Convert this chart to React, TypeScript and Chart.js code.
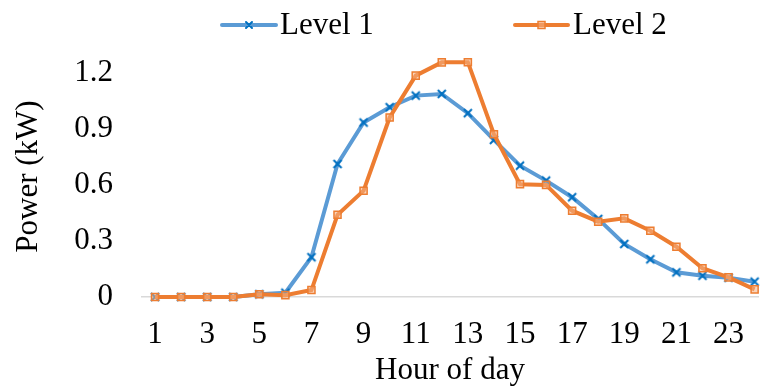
import React, { useEffect, useRef } from "react";
import { Chart, registerables } from "chart.js";

Chart.register(...registerables);

const hours = [1, 2, 3, 4, 5, 6, 7, 8, 9, 10, 11, 12, 13, 14, 15, 16, 17, 18, 19, 20, 21, 22, 23, 24];
const level1 = [0, 0, 0, 0, 0.015, 0.023, 0.213, 0.712, 0.934, 1.016, 1.078, 1.087, 0.984, 0.841, 0.703, 0.623, 0.534, 0.418, 0.284, 0.202, 0.132, 0.114, 0.103, 0.082];
const level2 = [0, 0, 0, 0, 0.015, 0.01, 0.037, 0.44, 0.569, 0.961, 1.185, 1.256, 1.257, 0.871, 0.604, 0.6, 0.462, 0.403, 0.421, 0.355, 0.269, 0.154, 0.105, 0.041];
const xTicks = [1, 3, 5, 7, 9, 11, 13, 15, 17, 19, 21, 23];
const yTicks = [0, 0.3, 0.6, 0.9, 1.2];
const yTickLabels = ["0", "0.3", "0.6", "0.9", "1.2"];
const seriesNames = ["Level 1", "Level 2"];

const FONT = "'Liberation Serif', 'Times New Roman', serif";
const BLUE_LINE = "#5B9BD5";
const BLUE_MARK = "#0070C0";
const ORANGE = "#ED7D31";
const ORANGE_FILL = "rgba(244,177,131,0.55)";

function drawCross(ctx: CanvasRenderingContext2D, x: number, y: number, r: number, color: string) {
  ctx.save();
  ctx.strokeStyle = color;
  ctx.lineWidth = 2;
  ctx.beginPath();
  ctx.moveTo(x - r, y - r);
  ctx.lineTo(x + r, y + r);
  ctx.moveTo(x + r, y - r);
  ctx.lineTo(x - r, y + r);
  ctx.stroke();
  ctx.restore();
}

const legendPlugin = {
  id: "customLegend",
  afterDraw(chart: any) {
    const ctx: CanvasRenderingContext2D = chart.ctx;
    const y = 25;
    const items = [
      { x0: 222, x1: 276, tx: 280, color: BLUE_LINE, text: seriesNames[0], marker: "cross" },
      { x0: 515, x1: 568, tx: 573, color: ORANGE, text: seriesNames[1], marker: "rect" },
    ];
    ctx.save();
    for (const it of items) {
      ctx.strokeStyle = it.color;
      ctx.lineWidth = 4;
      ctx.lineCap = "round";
      ctx.beginPath();
      ctx.moveTo(it.x0, y);
      ctx.lineTo(it.x1, y);
      ctx.stroke();
      const cx = (it.x0 + it.x1) / 2;
      if (it.marker === "cross") {
        drawCross(ctx, cx, y, 3, BLUE_MARK);
      } else {
        ctx.fillStyle = ORANGE_FILL;
        ctx.fillRect(cx - 3.5, y - 3.5, 7, 7);
        ctx.strokeStyle = ORANGE;
        ctx.lineWidth = 1.5;
        ctx.strokeRect(cx - 3.5, y - 3.5, 7, 7);
      }
      ctx.fillStyle = "#000";
      ctx.font = `31px ${FONT}`;
      ctx.textBaseline = "middle";
      ctx.textAlign = "left";
      ctx.fillText(it.text, it.tx, y + 1);
    }
    ctx.restore();
  },
};

export default function App() {
  const canvasRef = useRef<HTMLCanvasElement | null>(null);

  useEffect(() => {
    document.body.style.margin = "0";
    const canvas = canvasRef.current;
    if (!canvas) return;

    const crossCanvas = document.createElement("canvas");
    crossCanvas.width = 14;
    crossCanvas.height = 14;
    const cctx = crossCanvas.getContext("2d")!;
    drawCross(cctx, 7, 7, 4, BLUE_MARK);

    const chart = new Chart(canvas, {
      type: "line",
      data: {
        datasets: [
          {
            label: seriesNames[0],
            data: hours.map((h, i) => ({ x: h, y: level1[i] })),
            borderColor: BLUE_LINE,
            backgroundColor: BLUE_MARK,
            borderWidth: 4,
            pointStyle: crossCanvas as any,
            pointRadius: 5,
            tension: 0,
            order: 1,
            clip: false as any,
          },
          {
            label: seriesNames[1],
            data: hours.map((h, i) => ({ x: h, y: level2[i] })),
            borderColor: ORANGE,
            backgroundColor: ORANGE_FILL,
            borderWidth: 4,
            pointStyle: "rect",
            pointRadius: 5,
            pointBorderWidth: 1.5,
            pointBorderColor: ORANGE,
            pointBackgroundColor: ORANGE_FILL,
            tension: 0,
            order: 0,
            clip: false as any,
          },
        ],
      },
      options: {
        responsive: false,
        animation: false,
        layout: { padding: { top: 56, left: 0, right: 0, bottom: 0 } },
        plugins: {
          legend: { display: false },
          tooltip: { enabled: false },
        },
        scales: {
          x: {
            type: "linear",
            min: 0.5,
            max: 24.13,
            afterBuildTicks: (scale: any) => {
              scale.ticks = xTicks.map((v) => ({ value: v }));
            },
            afterFit: (scale: any) => {
              scale.height = 93;
            },
            grid: { display: false, drawTicks: false },
            border: { display: true, color: "#D9D9D9", width: 1.5 },
            ticks: {
              autoSkip: false,
              maxRotation: 0,
              padding: 19,
              color: "#000",
              font: { family: FONT, size: 31 },
              callback: (v: any) => String(v),
            },
            title: {
              display: true,
              text: "Hour of day",
              color: "#000",
              font: { family: FONT, size: 31 },
              padding: { top: 0, bottom: 1 },
            },
          },
          y: {
            type: "linear",
            min: 0,
            max: 1.29,
            afterBuildTicks: (scale: any) => {
              scale.ticks = yTicks.map((v) => ({ value: v }));
            },
            afterFit: (scale: any) => {
              scale.width = 142;
            },
            grid: { display: false, drawTicks: false },
            border: { display: false },
            ticks: {
              padding: 29,
              color: "#000",
              font: { family: FONT, size: 31 },
              callback: (v: any) => {
                const idx = yTicks.findIndex((t) => Math.abs(t - Number(v)) < 1e-6);
                return idx >= 0 ? yTickLabels[idx] : "";
              },
            },
            title: {
              display: true,
              text: "Power (kW)",
              color: "#000",
              font: { family: FONT, size: 31 },
              padding: { top: 10, bottom: 0 },
            },
          },
        },
      },
      plugins: [legendPlugin],
    });

    return () => chart.destroy();
  }, []);

  return (
    <div style={{ width: 767, height: 390 }}>
      <canvas ref={canvasRef} width={767} height={390} style={{ display: "block" }} />
    </div>
  );
}
